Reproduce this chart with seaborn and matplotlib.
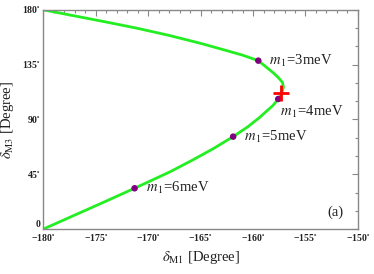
import matplotlib
matplotlib.use("Agg")
import matplotlib.pyplot as plt
import seaborn as sns
import pandas as pd
from matplotlib.ticker import MultipleLocator, FixedLocator

# curve samples (delta_M1, delta_M3), ordered along the curve
curve_m1 = [-180.0, -177.0, -174.0, -171.3, -167.9, -165.7, -163.8, -161.9, -160.5,
            -159.4, -158.1, -157.6, -157.3, -157.1, -157.2, -157.6, -158.1, -159.5,
            -161.0, -162.5, -165.0, -168.0, -171.0, -174.0, -177.0, -180.0]
curve_m3 = [0.0, 11.5, 23.0, 33.5, 47.1, 57.0, 66.0, 75.9, 84.0,
            91.5, 101.5, 106.8, 111.0, 116.5, 120.5, 124.5, 128.5, 138.3,
            142.8, 146.5, 152.5, 159.0, 164.8, 170.0, 175.0, 180.0]

# benchmark points
pt_labels = ["3", "4", "5", "6"]
pt_m1 = [-159.5, -157.6, -161.9, -171.3]
pt_m3 = [138.3, 106.8, 75.9, 33.5]

# best-fit point
best_m1 = [-157.3]
best_m3 = [111.5]

xticks = [-180, -175, -170, -165, -160, -155, -150]
yticks = [0, 45, 90, 135, 180]

sns.set_theme(style="white")
plt.rcParams['font.family'] = ['Liberation Serif', 'DejaVu Serif']
plt.rcParams['mathtext.fontset'] = 'stix'

fig = plt.figure(figsize=(3.74, 2.74), dpi=100)
ax = fig.add_axes([0.116, 0.164, 0.841, 0.800])

df = pd.DataFrame({"d1": curve_m1, "d3": curve_m3})
sns.lineplot(data=df, x="d1", y="d3", sort=False, estimator=None, errorbar=None,
             color="#22ee22", lw=2.0, ax=ax)

dfp = pd.DataFrame({"d1": pt_m1, "d3": pt_m3})
sns.scatterplot(data=dfp, x="d1", y="d3", color="#800080", s=22, edgecolor="none",
                zorder=5, ax=ax)

ax.plot(best_m1, best_m3, marker="+", color="red", ms=11, mew=2, ls="none", zorder=6)

offsets = {"3": (8, 0), "4": (1, -9), "5": (8, 0), "6": (8, 0)}
for lab, x, y in zip(pt_labels, pt_m1, pt_m3):
    ax.annotate(r"$m_{\,1}$=" + lab + "meV", (x, y), xytext=offsets[lab],
                textcoords="offset points", fontsize=10.5, va="center", ha="left",
                color="#222222")

ax.text(0.955, 0.075, "(a)", transform=ax.transAxes, ha="right", va="center",
        fontsize=10.5, color="#222222")

ax.set_xlim(-180, -150)
ax.set_ylim(0, 180)
ax.xaxis.set_major_locator(FixedLocator(xticks))
ax.yaxis.set_major_locator(FixedLocator(yticks))
ax.xaxis.set_minor_locator(MultipleLocator(1))
ax.yaxis.set_minor_locator(MultipleLocator(15))
ax.set_xticklabels([("\u2212%d" % -t) + r"$^{\circ}$" for t in xticks],
                   fontsize=7, fontweight="bold")
ax.set_yticklabels([("%d" % t) + (r"$^{\circ}$" if t else "") for t in yticks],
                   fontsize=7, fontweight="bold")
ax.tick_params(which="both", direction="in", top=True, right=True, colors="#888888",
               labelcolor="#222222", width=0.8)
ax.tick_params(which="major", length=4.5)
ax.tick_params(axis="x", which="major", pad=3)
ax.tick_params(axis="y", which="major", pad=2)
ax.tick_params(which="minor", length=2.5)
ylabs = ax.get_yticklabels()
ylabs[0].set_va("bottom")

for sp in ax.spines.values():
    sp.set_color("#888888")
    sp.set_linewidth(1.0)

ax.set_xlabel(r"$\delta_{\rm M1}$ [Degree]", fontsize=10.5, color="#222222", labelpad=3)
ax.set_ylabel(r"$\delta_{\rm M3}$ [Degree]", fontsize=10.5, color="#222222", labelpad=4)

fig.savefig("out.png", dpi=100)
